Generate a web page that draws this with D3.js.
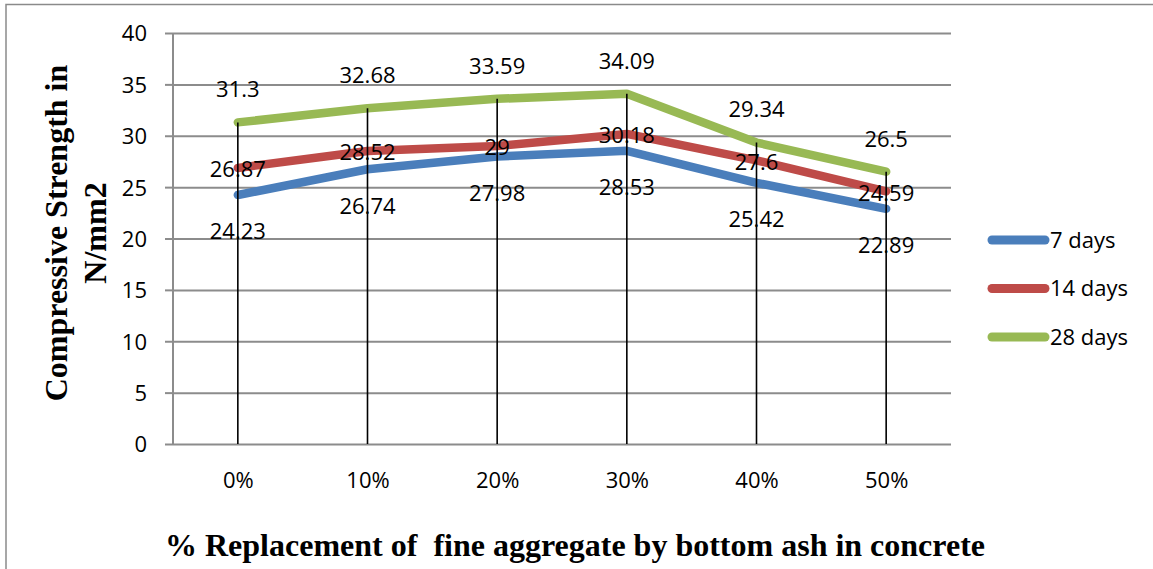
<!DOCTYPE html>
<html>
<head>
<meta charset="utf-8">
<script src="https://cdn.jsdelivr.net/npm/d3@7"></script>
<style>
  html, body { margin: 0; padding: 0; background: #fff; }
  svg { display: block; }
  text { font-family: "Open Sans", "Noto Sans", sans-serif; fill: #000; }
  .title { font-family: "Liberation Serif", "Times New Roman", serif; font-weight: bold; white-space: pre; }
</style>
</head>
<body>
<svg id="chart" width="1153" height="569"></svg>
<script>
// Replacement levels (x categories)
const categories = ["0%", "10%", "20%", "30%", "40%", "50%"];
// Compressive strength (N/mm2) per curing age
const days7  = [24.23, 26.74, 27.98, 28.53, 25.42, 22.89];
const days14 = [26.87, 28.52, 29, 30.18, 27.6, 24.59];
const days28 = [31.3, 32.68, 33.59, 34.09, 29.34, 26.5];
const seriesNames = ["7 days", "14 days", "28 days"];
const yTicks = [0, 5, 10, 15, 20, 25, 30, 35, 40];

const colors = ["#4A7EBB", "#BE4B48", "#98B954"];
const seriesValues = [days7, days14, days28];
// label placement relative to the point: below, centred, above
const labelDy = [36.5, 1.5, -33];

const svg = d3.select("#chart");
const plot = { left: 173, right: 951, top: 33, bottom: 444 };

// outer frame
svg.append("rect")
  .attr("x", 6).attr("y", 4.5).attr("width", 1160).attr("height", 580)
  .attr("fill", "none").attr("stroke", "#8a8a8a").attr("stroke-width", 1.5);

const x = d3.scalePoint().domain(categories).range([plot.left, plot.right]).padding(0.5);
const y = d3.scaleLinear().domain([0, 40]).range([plot.bottom, plot.top]);

// horizontal gridlines with outward tick marks
const yAxis = d3.axisLeft(y).tickValues(yTicks).tickSize(8).tickPadding(18);
const gy = svg.append("g").attr("transform", `translate(${plot.left},0)`).call(yAxis);
gy.select(".domain").remove();
gy.selectAll(".tick line").attr("stroke", "#8c8c8c").attr("stroke-width", 2);
gy.selectAll(".tick").append("line")
  .attr("x1", 0).attr("x2", plot.right - plot.left)
  .attr("stroke", "#8c8c8c").attr("stroke-width", 2);
gy.selectAll(".tick text")
  .attr("font-family", "Open Sans").attr("font-size", 22).attr("fill", "#000")
  .attr("dy", "0.36em");

// vertical axis line
svg.append("line")
  .attr("x1", plot.left).attr("x2", plot.left)
  .attr("y1", plot.top).attr("y2", plot.bottom)
  .attr("stroke", "#8c8c8c").attr("stroke-width", 2);

// category axis
const xAxis = d3.axisBottom(x).tickSize(0).tickPadding(28);
const gx = svg.append("g").attr("transform", `translate(0,${plot.bottom})`).call(xAxis);
gx.select(".domain").remove();
gx.selectAll(".tick text")
  .attr("font-family", "Open Sans").attr("font-size", 22).attr("fill", "#000");

// series lines
const line = d3.line()
  .x((d, i) => x(categories[i]))
  .y(d => y(d));

seriesValues.forEach((vals, s) => {
  svg.append("path")
    .datum(vals)
    .attr("d", line)
    .attr("fill", "none")
    .attr("stroke", colors[s])
    .attr("stroke-width", 8.5)
    .attr("stroke-linecap", "round")
    .attr("stroke-linejoin", "round");
});

// drop lines from the highest point to the category axis
const maxVals = categories.map((c, i) => d3.max(seriesValues, v => v[i]));
svg.append("g").selectAll("line")
  .data(maxVals)
  .join("line")
  .attr("x1", (d, i) => x(categories[i]))
  .attr("x2", (d, i) => x(categories[i]))
  .attr("y1", d => y(d))
  .attr("y2", plot.bottom)
  .attr("stroke", "#000")
  .attr("stroke-width", 1.6);

// data labels
seriesValues.forEach((vals, s) => {
  svg.append("g").selectAll("text")
    .data(vals)
    .join("text")
    .attr("x", (d, i) => x(categories[i]))
    .attr("y", d => y(d) + labelDy[s])
    .attr("dy", "0.36em")
    .attr("text-anchor", "middle")
    .attr("font-size", 22)
    .text(d => d);
});

// legend
const legend = svg.append("g");
seriesNames.forEach((name, s) => {
  const ly = 240 + s * 48.5;
  legend.append("line")
    .attr("x1", 992).attr("x2", 1045)
    .attr("y1", ly).attr("y2", ly)
    .attr("stroke", colors[s]).attr("stroke-width", 9)
    .attr("stroke-linecap", "round");
  legend.append("text")
    .attr("x", 1050).attr("y", ly)
    .attr("dy", "0.36em")
    .attr("font-size", 22)
    .text(name);
});

// axis titles
svg.append("text")
  .attr("class", "title")
  .attr("x", 575).attr("y", 556)
  .attr("text-anchor", "middle")
  .attr("font-size", 32)
  .text("% Replacement of  fine aggregate by bottom ash in concrete");

const yTitle = svg.append("text")
  .attr("class", "title")
  .attr("transform", "translate(0,233) rotate(-90)")
  .attr("text-anchor", "middle")
  .attr("font-size", 32);
yTitle.append("tspan").attr("x", 0).attr("y", 67).text("Compressive Strength in");
yTitle.append("tspan").attr("x", 0).attr("y", 106).text("N/mm2");
</script>
</body>
</html>
